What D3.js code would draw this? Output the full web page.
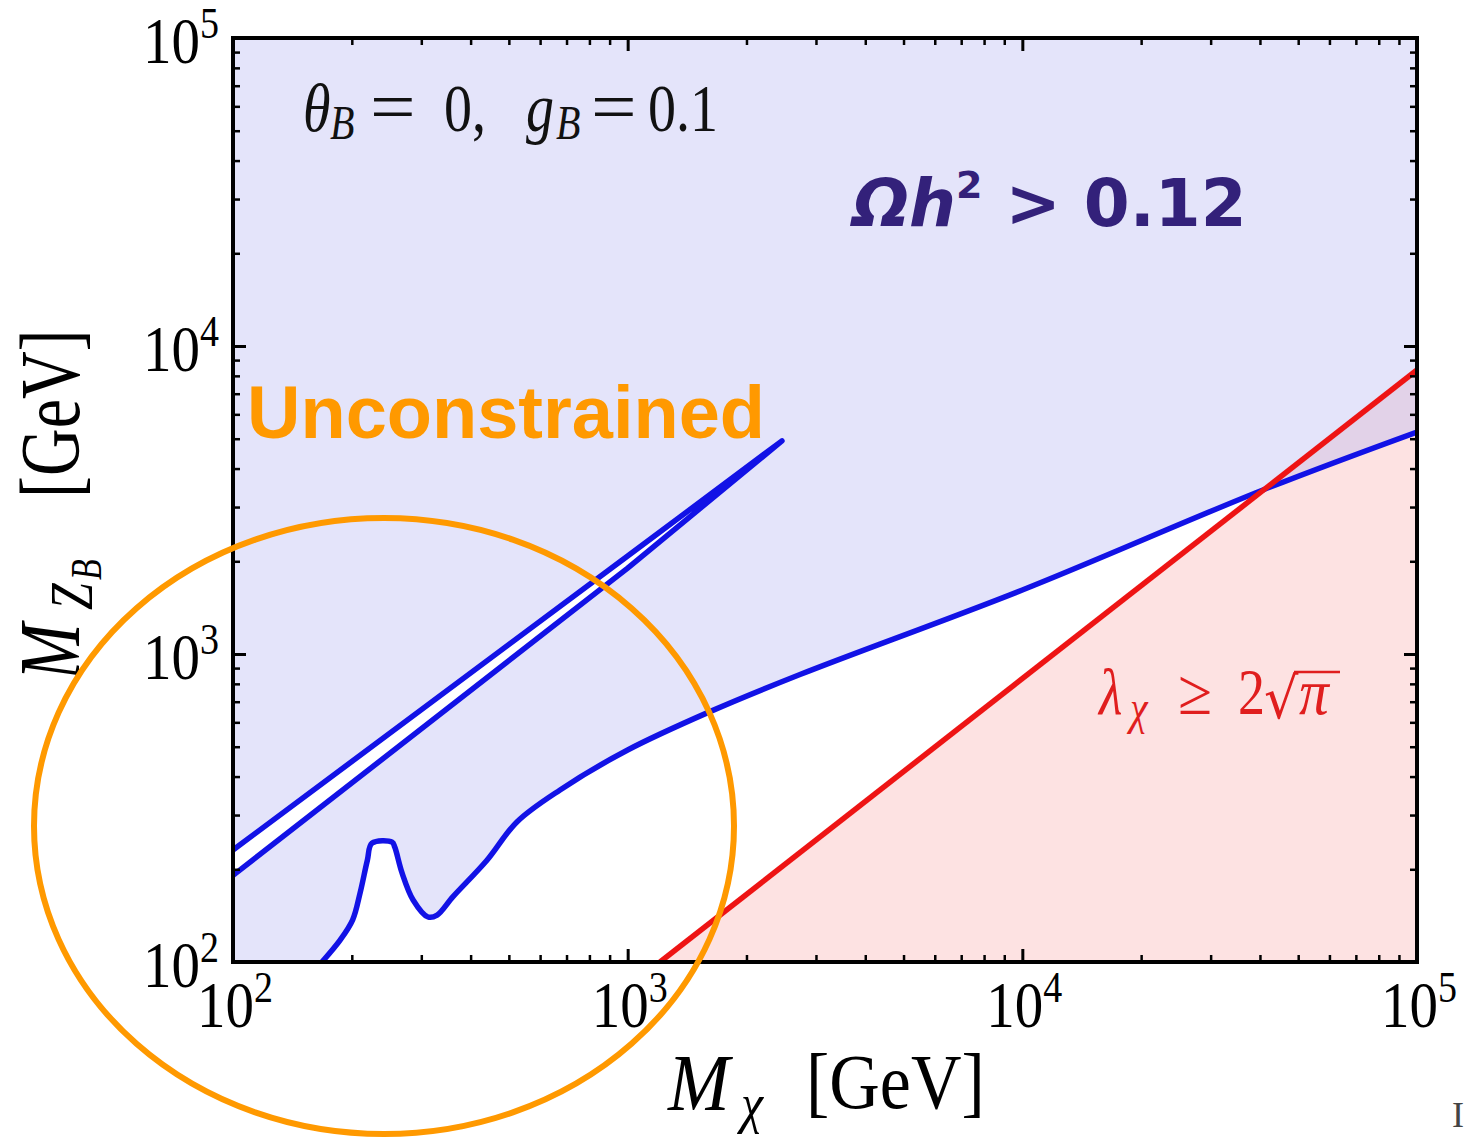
<!DOCTYPE html>
<html>
<head>
<meta charset="utf-8">
<script src="https://cdn.jsdelivr.net/npm/d3@7"></script>
<style>
    body { margin: 0; background: #fff; }
    svg { display: block; }
</style>
</head>
<body>
<div id="chart"></div>
<script>

// values, both axes in GeV
const boundaryMx = [168, 187, 201, 210, 219, 225, 253, 257, 268, 286, 312, 329, 361, 440, 524, 674, 1000, 1616, 2733, 10000, 40700, 100000];
const boundaryMz = [100, 118, 137, 168, 214, 243, 245, 236, 195, 159, 140, 142, 163, 214, 285, 362, 488, 650, 858, 1614, 3409, 5258];

const bandUpperMx = [100, 1000, 2460];
const bandUpperMz = [231, 2080, 4920];
const bandLowerMx = [100, 1000, 2460];
const bandLowerMz = [191, 1900, 4920];

const perturbMx = [1208, 100000];
const perturbMz = [100, 8360];

const majorTicks = [1e2, 1e3, 1e4, 1e5];
const tickExponents = ["2", "3", "4", "5"];


class MassPlane {
    constructor(_parentElement) {
        this.parentElement = _parentElement;
        this.initVis();
    }

    initVis() {
        let vis = this;

        vis.margin = { top: 38, right: 59, bottom: 175, left: 233 };
        vis.width  = 1476 - vis.margin.left - vis.margin.right;
        vis.height = 1137 - vis.margin.top  - vis.margin.bottom;

        vis.root = d3.select("#" + vis.parentElement).append("svg")
            .attr("width", 1476)
            .attr("height", 1137);

        vis.svg = vis.root.append("g")
            .attr("transform", `translate(${vis.margin.left},${vis.margin.top})`);

        vis.x = d3.scaleLog().domain([1e2, 1e5]).range([0, vis.width]);
        vis.y = d3.scaleLog().domain([1e2, 1e5]).range([vis.height, 0]);

        vis.boundary = boundaryMx.map((d, i) => [d, boundaryMz[i]]);
        vis.upper = bandUpperMx.map((d, i) => [d, bandUpperMz[i]]);
        vis.lower = bandLowerMx.map((d, i) => [d, bandLowerMz[i]]);
        vis.perturb = perturbMx.map((d, i) => [d, perturbMz[i]]);

        vis.drawRegions();
        vis.drawLines();
        vis.drawAxes();
        vis.drawText();
    }

    drawRegions() {
        let vis = this;
        let defs = vis.root.append("defs");

        defs.append("clipPath").attr("id", "plot-clip")
            .append("rect")
            .attr("width", vis.width)
            .attr("height", vis.height);

        vis.line = d3.line()
            .x(d => vis.x(d[0]))
            .y(d => vis.y(d[1]))
            .curve(d3.curveCatmullRom.alpha(0.5));

        // region above the relic-density boundary, used to tint the overlap
        defs.append("clipPath").attr("id", "above-clip")
            .append("path")
            .attr("d", vis.line(vis.boundary) + `L${vis.width},0L0,0L0,${vis.height}Z`);

        let layer = vis.svg.append("g").attr("clip-path", "url(#plot-clip)");

        layer.append("rect")
            .attr("width", vis.width)
            .attr("height", vis.height)
            .attr("fill", "#e4e4fa");

        let under = d3.area()
            .x(d => vis.x(d[0]))
            .y0(vis.height)
            .y1(d => vis.y(d[1]))
            .curve(d3.curveCatmullRom.alpha(0.5));

        layer.append("path")
            .datum(vis.boundary)
            .attr("d", under)
            .attr("fill", "#fff");

        let sliver = vis.upper.concat(vis.lower.slice().reverse());
        layer.append("path")
            .attr("d", d3.line().x(d => vis.x(d[0])).y(d => vis.y(d[1]))(sliver) + "Z")
            .attr("fill", "#fff");

        let redArea = d3.area()
            .x(d => vis.x(d[0]))
            .y0(vis.height)
            .y1(d => vis.y(d[1]));

        layer.append("path")
            .datum(vis.perturb)
            .attr("d", redArea)
            .attr("fill", "#fde2e2");

        layer.append("path")
            .datum(vis.perturb)
            .attr("d", redArea)
            .attr("clip-path", "url(#above-clip)")
            .attr("fill", "#e2d2e8");
    }

    drawLines() {
        let vis = this;
        let layer = vis.svg.append("g").attr("clip-path", "url(#plot-clip)");

        layer.append("path")
            .datum(vis.boundary)
            .attr("d", vis.line)
            .attr("fill", "none")
            .attr("stroke", "#1212e6")
            .attr("stroke-width", 5.5)
            .attr("stroke-linejoin", "round");

        let straight = d3.line().x(d => vis.x(d[0])).y(d => vis.y(d[1]));
        layer.append("path")
            .attr("d", straight(vis.upper.concat(vis.lower.slice().reverse())))
            .attr("fill", "none")
            .attr("stroke", "#1212e6")
            .attr("stroke-width", 5.5)
            .attr("stroke-linejoin", "round")
            .attr("stroke-linecap", "round");

        layer.append("path")
            .datum(vis.perturb)
            .attr("d", straight)
            .attr("fill", "none")
            .attr("stroke", "#ee1414")
            .attr("stroke-width", 5.5);
    }

    drawAxes() {
        let vis = this;

        let minorX = vis.x.ticks().filter(v => !majorTicks.includes(v));
        let minorY = vis.y.ticks().filter(v => !majorTicks.includes(v));

        const sides = [
            { axis: d3.axisBottom(vis.x), pos: `translate(0,${vis.height})`, minor: minorX },
            { axis: d3.axisTop(vis.x),    pos: "translate(0,0)",             minor: minorX },
            { axis: d3.axisLeft(vis.y),   pos: "translate(0,0)",             minor: minorY },
            { axis: d3.axisRight(vis.y),  pos: `translate(${vis.width},0)`,  minor: minorY }
        ];

        sides.forEach(s => {
            vis.svg.append("g")
                .attr("transform", s.pos)
                .call(s.axis.tickValues(s.minor).tickSize(-7).tickFormat(""))
                .call(g => g.select(".domain").remove())
                .selectAll("line").attr("stroke", "#000").attr("stroke-width", 2.5);

            vis.svg.append("g")
                .attr("transform", s.pos)
                .call(s.axis.tickValues(majorTicks).tickSize(-13).tickFormat(""))
                .call(g => g.select(".domain").remove())
                .selectAll("line").attr("stroke", "#000").attr("stroke-width", 3);
        });

        vis.svg.append("rect")
            .attr("width", vis.width)
            .attr("height", vis.height)
            .attr("fill", "none")
            .attr("stroke", "#000")
            .attr("stroke-width", 4);

        // power-of-ten labels
        let labelX = (px, py, exp, anchor) => {
            let t = vis.root.append("text")
                .attr("transform", `translate(${px},${py}) scale(1,1.15)`)
                .attr("font-family", "Liberation Serif, serif")
                .attr("font-size", 57)
                .attr("text-anchor", anchor);
            t.append("tspan").text("10");
            t.append("tspan").attr("font-size", 38).attr("dy", -22).text(exp);
        };

        majorTicks.forEach((v, i) => {
            labelX(vis.margin.left + vis.x(v) + 2, 1027, tickExponents[i], "middle");
            labelX(219, vis.margin.top + vis.y(v) + 25, tickExponents[i], "end");
        });

        // x title: M_chi [GeV]
        let serif = "Liberation Serif, serif";
        let xt = vis.root.append("g").attr("font-family", serif).attr("fill", "#000");
        xt.append("text").attr("transform", "translate(668,1110) scale(1,1.1)")
            .attr("font-size", 74).attr("font-style", "italic").text("M");
        xt.append("text").attr("transform", "translate(741,1122) scale(1,1.1)")
            .attr("font-size", 50).attr("font-style", "italic").text("χ");
        xt.append("text").attr("transform", "translate(806,1108) scale(1,1.12)")
            .attr("font-size", 70).text("[GeV]");

        // y title: M_{Z_B} [GeV], rotated
        let yt = vis.root.append("g")
            .attr("transform", "translate(79,680) rotate(-90) scale(1,1.28)")
            .attr("font-family", serif)
            .attr("fill", "#000");
        yt.append("text").attr("x", 0).attr("y", 0)
            .attr("font-size", 68).attr("font-style", "italic").text("M");
        yt.append("text").attr("x", 70).attr("y", 10)
            .attr("font-size", 48).attr("font-style", "italic").text("Z");
        yt.append("text").attr("x", 100).attr("y", 17)
            .attr("font-size", 34).attr("font-style", "italic").text("B");
        yt.append("text").attr("x", 182).attr("y", 0)
            .attr("font-size", 66).text("[GeV]");
    }

    drawText() {
        let vis = this;
        let serif = "Liberation Serif, serif";

        // parameter note, top-left
        let note = vis.root.append("g").attr("font-family", serif).attr("fill", "#111");
        const pieces = [
            { t: "θ",   x: 303, y: 131, s: 56, it: true },
            { t: "B",   x: 330, y: 139, s: 40, it: true },
            { t: "=",   x: 370, y: 131, s: 60, it: false },
            { t: "0,",  x: 444, y: 131, s: 56, it: false },
            { t: "g",   x: 526, y: 131, s: 56, it: true },
            { t: "B",   x: 556, y: 139, s: 40, it: true },
            { t: "=",   x: 591, y: 131, s: 60, it: false },
            { t: "0.1", x: 648, y: 131, s: 56, it: false }
        ];
        pieces.forEach(p => {
            note.append("text")
                .attr("transform", `translate(${p.x},${p.y}) scale(${p.t === "=" ? 1.35 : 1},1.2)`)
                .attr("font-size", p.s)
                .attr("font-style", p.it ? "italic" : null)
                .text(p.t);
        });

        // relic density label
        let om = vis.root.append("text")
            .attr("x", 853).attr("y", 226)
            .attr("font-family", "DejaVu Sans, sans-serif")
            .attr("font-weight", "bold")
            .attr("font-size", 66)
            .attr("fill", "#33217a");
        om.append("tspan").attr("font-style", "italic").text("Ωh");
        om.append("tspan").attr("font-size", 38).attr("dy", -28).text("2");
        om.append("tspan").attr("dy", 28).text(" > 0.12");

        // perturbativity label
        let red = "#e01e1e";
        let lam = vis.root.append("g").attr("font-family", serif).attr("fill", red);
        lam.append("text").attr("transform", "translate(1099,714) scale(1,1.2)")
            .attr("font-size", 54).attr("font-style", "italic").text("λ");
        lam.append("text").attr("transform", "translate(1130,724) scale(1,1.2)")
            .attr("font-size", 40).attr("font-style", "italic").text("χ");
        lam.append("text").attr("transform", "translate(1178,714) scale(1.15,1.2)")
            .attr("font-size", 54).text("≥");
        lam.append("text").attr("transform", "translate(1238,714) scale(1,1.2)")
            .attr("font-size", 54).text("2");
        lam.append("text").attr("transform", "translate(1264,718) scale(1,1.05)")
            .attr("font-size", 54).attr("font-family", "DejaVu Serif, serif").text("√");
        lam.append("text").attr("transform", "translate(1299,714) scale(1.1,1.2)")
            .attr("font-size", 54).attr("font-style", "italic").text("π");
        lam.append("line")
            .attr("x1", 1294).attr("x2", 1340)
            .attr("y1", 672).attr("y2", 672)
            .attr("stroke", red).attr("stroke-width", 2.5);

        // annotations drawn over the figure
        vis.root.append("text")
            .attr("x", 247).attr("y", 438)
            .attr("font-family", "Liberation Sans, Arial, sans-serif")
            .attr("font-weight", "bold")
            .attr("font-size", 74)
            .attr("fill", "#ff9900")
            .text("Unconstrained");

        vis.root.append("ellipse")
            .attr("cx", 384).attr("cy", 826)
            .attr("rx", 350).attr("ry", 308)
            .attr("fill", "none")
            .attr("stroke", "#ff9900")
            .attr("stroke-width", 6);

        vis.root.append("text")
            .attr("x", 1452).attr("y", 1127)
            .attr("font-family", serif)
            .attr("font-size", 36)
            .attr("fill", "#444")
            .text("I");
    }
}

new MassPlane("chart");
</script>
</body>
</html>
